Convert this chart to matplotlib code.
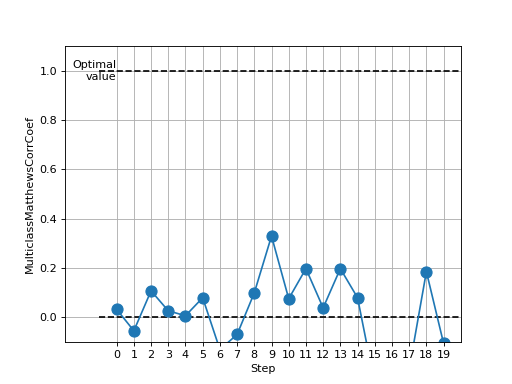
"""Plot per-step MulticlassMatthewsCorrCoef with optimal/baseline markers."""

import matplotlib

matplotlib.use("Agg")
import matplotlib.pyplot as plt
import numpy as np

steps = np.arange(20)
mcc = [0.033, -0.054, 0.108, 0.027, 0.007, 0.080, -0.13, -0.069, 0.100, 0.330,
       0.076, 0.198, 0.039, 0.198, 0.080, -0.27, -0.25, -0.21, 0.186, -0.105]
optimal_value = 1.0
baseline_value = 0.0

fig, ax = plt.subplots(figsize=(6.4, 4.8), dpi=80)
fig.subplots_adjust(left=0.127, right=0.9, top=0.88, bottom=0.109)

ax.hlines(optimal_value, -1, 20, colors="black", linestyles="--")
ax.hlines(baseline_value, -1, 20, colors="black", linestyles="--")
ax.text(0, optimal_value, "Optimal\nvalue", ha="right", va="center")

ax.plot(steps, mcc, marker="o", markersize=10, color="#1f77b4")

ax.set_xticks(steps)
ax.set_xlim(-3.0, 20.0)
ax.set_ylim(-0.1, 1.1)
ax.set_xlabel("Step")
ax.set_ylabel("MulticlassMatthewsCorrCoef")
ax.grid(True)

fig.savefig("out.png", dpi=80)
plt.close(fig)
